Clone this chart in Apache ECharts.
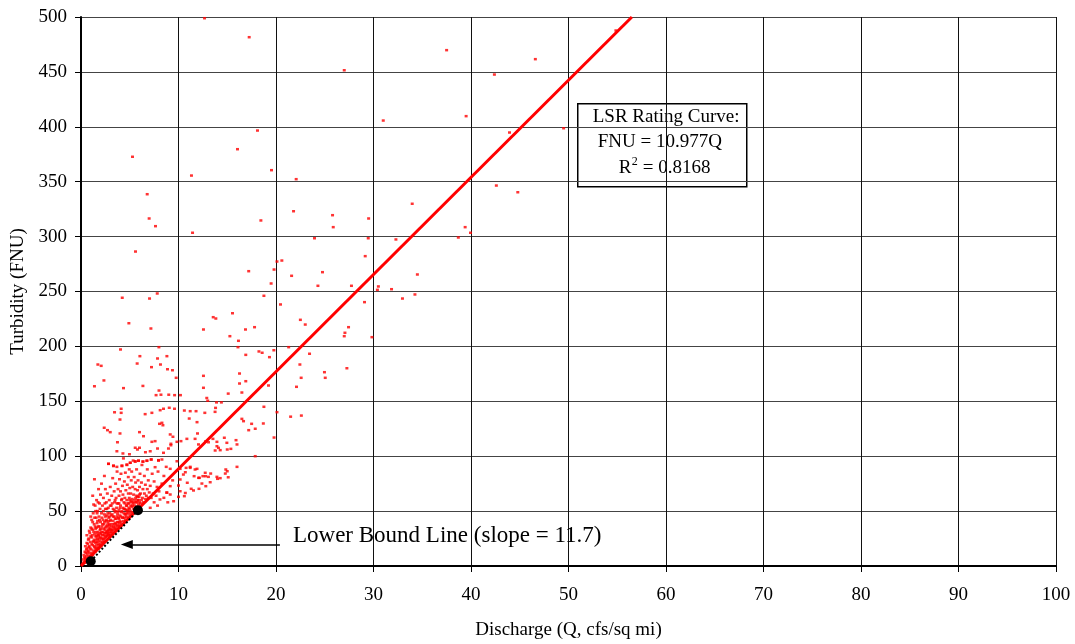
<!DOCTYPE html>
<html>
<head>
<meta charset="utf-8">
<script src="https://cdn.jsdelivr.net/npm/echarts@6/dist/echarts.min.js"></script>
<style>
  html, body { margin: 0; padding: 0; background: #fff; }
  #chart { width: 1075px; height: 644px; }
</style>
</head>
<body>
<div id="chart"></div>
<script>
// Axis ticks
const xTicks = [0, 10, 20, 30, 40, 50, 60, 70, 80, 90, 100];
const yTicks = [0, 50, 100, 150, 200, 250, 300, 350, 400, 450, 500];

// Observations [Q (cfs/sq mi), FNU]: high-turbidity / high-flow samples
const highFlow = [
  [12.67,498.9],[17.25,481.6],[27.0,451.5],[18.1,396.6],[16.05,379.6],[5.28,372.7],[19.54,360.5],
  [11.33,355.6],[22.07,352.3],[6.79,338.6],[54.86,487.7],[37.5,469.8],[46.6,461.6],[42.4,447.6],
  [31.0,405.7],[39.5,409.7],[43.95,394.8],[49.5,398.7],[42.6,346.5],[44.8,340.4],[33.97,329.9],
  [6.99,316.5],[7.64,309.5],[11.44,303.5],[18.45,314.7],[21.8,323.1],[23.95,298.5],[5.59,286.4],
  [25.8,319.5],[29.5,316.5],[25.87,308.6],[29.46,298.5],[32.3,297.4],[39.4,308.6],[39.95,303.5],
  [38.7,299.2]
];

// Observations in the 170-300 FNU band
const midFlow = [
  [20.1,277.3],[20.6,278.2],[19.8,270.0],[17.2,268.5],[21.6,264.3],[19.5,257.3],[24.3,255.2],
  [4.23,244.3],[7.03,243.6],[7.82,248.2],[18.76,246.1],[20.46,238.2],[4.91,221.1],[7.17,216.3],
  [13.56,226.6],[13.83,225.4],[15.54,230.2],[12.56,215.4],[16.87,215.4],[17.8,217.5],[22.5,224.2],
  [23.0,219.9],[15.27,209.3],[16.15,205.1],[4.05,197.2],[7.99,199.3],[16.1,199.3],[21.3,199.3],
  [6.04,191.1],[7.85,189],[8.81,191.1],[16.9,192.3],[18.25,195.4],[18.58,194.2],[19.33,190.2],
  [19.78,196.5],[23.44,193.3],[1.73,183.5],[2.07,182.3],[5.76,184.4],[7.23,181.1],[8.15,183.5],
  [8.87,179.2],[9.38,178.3],[9.76,171.4],[12.56,173.2],[16.26,175.3],[22.45,183.5],[22.58,171.4],
  [29.15,282.2],[24.77,267.6],[34.5,265.5],[27.74,255.2],[30.5,254.6],[30.4,251.5],[31.85,252.1],
  [34.25,247.3],[32.97,243.6],[29.08,240.3],[27.44,217.5],[27.07,212.4],[27.0,209.3],[29.84,208.4],
  [27.27,180.1],[24.97,176.5],[25.05,171.4]
];

// Observations in the 50-170 FNU band
const lowFlow = [
  [1.38,163.7],[2.35,169],[4.36,162],[6.35,164],[8.0,159.8],[8.2,156],[7.7,155.6],[9.0,156],
  [9.6,155.6],[10.2,155.6],[12.56,162.3],[12.9,153],[13.0,150.5],[13.9,149],[13.8,144],[13.75,140.4],
  [14.4,149],[15.1,157],[16.26,166.2],[16.9,168.3],[19.23,164.4],[22.1,163.2],[16.5,158],[18.76,145],
  [20.1,140.1],[3.44,140],[4.12,143.2],[4.12,139.5],[4.0,133.4],[6.58,138.3],[7.27,139.5],[8.12,141.9],
  [8.46,143.2],[9.05,144.1],[9.59,143.2],[10.6,141.6],[11.2,141],[11.8,141],[11.1,134.3],[11.9,131],
  [12.7,139.5],[2.38,125.9],[2.72,123.7],[3.0,121.9],[4.0,120.7],[3.74,112.7],[6.0,121.9],[6.41,118.2],
  [7.27,113.1],[7.6,113.7],[8.3,130.4],[8.4,128.2],[8.05,129.5],[9.15,119.8],[9.43,117.7],[9.22,111.3],
  [9.84,113.1],[10.25,113.7],[10.86,115.8],[11.7,115.8],[11.95,120.7],[12.05,110.7],[12.77,113.4],
  [13.08,112.7],[13.53,115.8],[13.94,109.1],[14.28,105.5],[14.96,112.2],[3.68,104.5],[4.3,102.5],
  [4.97,101.8],[5.56,107.7],[5.79,106.1],[6.0,107.7],[6.61,103.6],[7.1,104.5],[7.85,107],[8.46,103.1],
  [8.97,107],[9.22,110],[2.82,93.1],[3.33,91.5],[3.68,90.3],[4.2,91.5],[4.71,92.4],[5.05,94],
  [5.56,95.4],[5.9,95.8],[6.35,95.2],[6.76,95.8],[7.2,97],[7.95,96.4],[8.3,97],[8.74,90.3],
  [9.15,88.5],[9.84,95.4],[10.17,88.5],[10.5,83.3],[10.78,89.4],[11.2,90.3],[11.7,87.9],[12.15,80.3],
  [12.77,81.8],[13.3,84.2],[14.0,79.4],[14.85,87.9],[15.1,80.8],
  [10.0,63],[10.6,63.6],[10.17,68.1],[10.7,66.5],[11.3,70.3],[11.54,68.8],[12.1,70.3],[12.4,75.1],
  [12.8,72.7],[13.25,76.3],[13.94,81.2],[14.28,80],[14.8,84.2],[15.0,86.3],[16.0,90.3],[17.87,100],
  [19.8,117],[18.7,129.8],[17.5,129.5],[17.87,125],[17.2,123.7],[16.5,134],[16.67,131.9],[14.1,107.6],
  [15.0,106.1],[13.76,105.2],[14.7,116.8],[13.94,113.1],[15.9,114.6],[16.0,110.7],[15.37,106.7],
  [11.9,88.5],[11.2,89.4],[10.7,85.4],[11.6,81.8],[12.05,80.3],[12.5,81.8],[12.74,84.9],[13.07,81.2],
  [10.17,78.8],[10.0,73.3],[10.9,75.8],[9.15,72.7],[8.8,66.7],[9.15,65.1],[8.5,62.1],[8.1,60.6],
  [7.1,53],[7.85,55],[8.9,58],[9.5,59],[21.5,136],[22.6,137]
];

// Dense cluster of low-flow samples near the origin
const baseFlow = [
  [0.2,2],[0.3,4],[0.35,8],[0.4,3],[0.5,6],[0.5,12],[0.55,9],[0.6,5],[0.6,16],[0.65,11],[0.7,7],
  [0.7,20],[0.75,14],[0.8,9],[0.8,25],[0.85,18],[0.9,12],[0.9,30],[0.95,22],[1.0,10],[1.0,35],
  [0.6,28],[0.45,18],
  [1.05,15],[1.1,26],[1.1,42],[1.15,12],[1.2,19],[1.2,33],[1.2,64],[1.25,48],[1.3,14],[1.3,23],
  [1.35,38],[1.38,79],[1.4,17],[1.4,29],[1.45,55],[1.5,16],[1.5,21],[1.5,34],[1.55,44],[1.6,19],
  [1.6,27],[1.6,60],[1.65,39],[1.7,17],[1.7,24],[1.7,50],[1.75,31],[1.8,20],[1.8,36],[1.8,70],
  [1.85,27],[1.85,45],[1.9,19],[1.9,57],[1.95,23],[1.95,33],[2.0,40],[2.0,65],
  [2.05,21],[2.05,29],[2.1,48],[2.1,75],[2.15,25],[2.15,36],[2.2,22],[2.2,55],[2.25,31],[2.25,42],
  [2.3,24],[2.3,62],[2.35,28],[2.35,38],[2.4,47],[2.4,82],[2.45,25],[2.45,33],[2.5,27],[2.5,52],
  [2.5,70],[2.55,30],[2.55,41],[2.6,36],[2.6,58],[2.65,28],[2.65,46],[2.7,32],[2.7,66],[2.75,39],
  [2.75,30],[2.8,53],[2.8,29],[2.85,44],[2.85,35],[2.9,60],[2.9,31],[2.95,38],[2.95,48],[3.0,34],
  [3.0,72],[2.82,93],
  [3.05,30],[3.05,42],[3.1,55],[3.1,36],[3.15,33],[3.15,64],[3.2,47],[3.2,38],[3.25,31],[3.25,80],
  [3.3,41],[3.3,52],[3.33,91],[3.35,35],[3.4,45],[3.4,68],[3.45,33],[3.45,58],[3.5,39],[3.5,49],
  [3.55,36],[3.55,75],[3.6,43],[3.6,62],[3.65,34],[3.65,53],[3.7,40],[3.7,86],[3.75,47],[3.75,37],
  [3.8,57],[3.8,70],[3.85,36],[3.85,44],[3.9,51],[3.9,64],[3.95,39],[3.95,79],[4.0,46],[4.0,37],
  [4.05,55],[4.05,68],[4.1,40],[4.1,84],[4.15,49],[4.15,60],[4.2,38],[4.2,91],[4.25,44],[4.25,73],
  [4.3,53],[4.3,65],[4.35,41],[4.35,98],[4.4,48],[4.4,58],[4.45,77],[4.45,44],[4.5,52],[4.5,62],
  [4.55,42],[4.55,85],[4.6,47],[4.6,69],[4.65,55],[4.65,45],[4.7,92],[4.7,60],[4.75,50],[4.75,74],
  [4.8,44],[4.8,57],[4.85,66],[4.85,81],[4.9,48],[4.9,53],[4.95,62],[4.95,88],[5.0,46],[5.0,71],
  [5.05,50],[5.05,94],[5.1,58],[5.1,66],[5.15,48],[5.15,78],[5.2,54],[5.2,86],[5.25,61],[5.3,49],
  [5.3,72],[5.35,57],[5.35,96],[5.4,52],[5.4,65],[5.45,81],[5.5,55],[5.5,60],[5.55,70],[5.56,95],
  [5.6,51],[5.6,76],[5.65,58],[5.7,64],[5.7,88],[5.75,54],[5.8,69],[5.8,60],[5.85,78],[5.9,56],
  [5.9,96],[5.95,63],[6.0,72],[6.0,58],
  [6.05,84],[6.1,57],[6.1,66],[6.2,60],[6.2,76],[6.25,92],[6.3,62],[6.35,95],[6.35,70],[6.4,58],
  [6.5,66],[6.5,82],[6.6,61],[6.6,74],[6.7,64],[6.76,96],[6.8,70],[6.8,88],[6.9,62],[6.9,78],[7.0,67],
  [7.1,73],[7.2,97],[7.2,62],[7.3,84],[7.4,66],[7.5,58],[7.5,77],[7.6,90],[7.7,64],[7.8,72],
  [7.9,86],[7.95,96],[8.0,68],[8.3,75],[8.5,82],[8.8,67],[9.4,78]
];

// Further samples packed tightly above the lower bound line
const baseFlowDense = [
  [0.25,6],[0.3,10],[0.4,13],[0.45,7],[0.55,15],[0.6,21],[0.65,4],[0.7,13],[0.75,24],[0.8,17],
  [0.85,32],[0.9,7],[0.95,16],[1.0,27],[1.0,45],
  [1.05,8],[1.1,20],[1.1,34],[1.15,28],[1.2,10],[1.2,40],[1.25,22],[1.3,31],[1.3,56],[1.35,18],
  [1.4,24],[1.4,44],[1.45,13],[1.45,36],[1.5,27],[1.5,50],[1.55,22],[1.55,31],[1.6,15],[1.6,35],
  [1.65,25],[1.65,48],[1.7,29],[1.7,41],[1.75,22],[1.75,58],[1.8,16],[1.8,28],[1.85,36],[1.9,25],
  [1.9,42],[1.95,30],[1.95,52],[2.0,18],[2.0,26],[2.0,34],
  [2.1,19],[2.1,31],[2.15,44],[2.2,28],[2.2,38],[2.25,25],[2.3,34],[2.3,50],[2.35,22],[2.4,30],
  [2.4,40],[2.45,57],[2.5,35],[2.5,45],[2.55,26],[2.6,31],[2.6,42],[2.65,52],[2.7,27],[2.7,37],
  [2.75,48],[2.8,33],[2.8,41],[2.85,28],[2.9,37],[2.9,45],[2.95,33],[3.0,28],[3.0,41],[3.0,55],
  [3.1,31],[3.1,46],[3.2,33],[3.2,57],[3.3,36],[3.3,45],[3.4,38],[3.4,51],[3.5,34],[3.5,43],
  [3.5,60],[3.6,38],[3.6,50],[3.7,45],[3.7,57],[3.8,40],[3.8,49],[3.9,43],[3.9,57],[4.0,41],[4.0,53],
  [4.1,45],[4.2,50],[4.2,61],[4.3,44],[4.4,52],[4.5,47],[4.5,57],[4.6,51],[4.7,48],[4.7,55],
  [4.8,51],[4.9,57],[5.0,52],[5.0,60],[5.1,55],[5.2,59],[5.3,55],[5.4,58],[5.5,52],[5.6,62],
  [5.7,58],[5.8,63],[5.9,60],[6.0,65]
];

// Fitted LSR rating curve, drawn between its end points on the plot
const lsrCurve = [[0, 0], [56.5, 500]];
// Lower bound line through its two anchor samples
const lowerBound = [[1.0, 4.4], [5.84, 50.7]];
// Arrow pointing at the lower bound line
const arrowFrom = [20.4, 19.6];
const arrowTo = [4.7, 19.6];

const serif = 'Liberation Serif, Times New Roman, serif';
const scatterStyle = {
  type: 'scatter',
  symbol: 'rect',
  symbolSize: [3, 2.5],
  itemStyle: { color: '#ff0000' },
  silent: true,
  z: 3
};

const chart = echarts.init(document.getElementById('chart'), null, { renderer: 'canvas' });

chart.setOption({
  animation: false,
  backgroundColor: '#ffffff',
  grid: { left: 81, right: 19, top: 17, bottom: 78, containLabel: false, outerBoundsMode: 'none' },
  xAxis: {
    type: 'value',
    min: xTicks[0], max: xTicks[xTicks.length - 1], interval: xTicks[1] - xTicks[0],
    name: 'Discharge (Q, cfs/sq mi)',
    nameLocation: 'middle',
    nameGap: 55,
    nameTextStyle: { fontFamily: serif, fontSize: 19, color: '#000' },
    axisLine: { show: true, onZero: false, lineStyle: { color: '#000', width: 2 } },
    axisTick: { show: true, inside: false, length: 6, lineStyle: { color: '#000', width: 1 } },
    axisLabel: { fontFamily: serif, fontSize: 19, color: '#000', margin: 20, showMinLabel: true, showMaxLabel: true },
    splitLine: { show: true, lineStyle: { color: '#111', width: 1 } }
  },
  yAxis: {
    type: 'value',
    min: yTicks[0], max: yTicks[yTicks.length - 1], interval: yTicks[1] - yTicks[0],
    name: 'Turbidity (FNU)',
    nameLocation: 'middle',
    nameGap: 53,
    nameTextStyle: { fontFamily: serif, fontSize: 19, color: '#000' },
    axisLine: { show: true, onZero: false, lineStyle: { color: '#000', width: 2 } },
    axisTick: { show: true, inside: false, length: 6, lineStyle: { color: '#000', width: 1 } },
    axisLabel: { fontFamily: serif, fontSize: 19, color: '#000', margin: 14, showMinLabel: true, showMaxLabel: true },
    splitLine: { show: true, lineStyle: { color: '#444', width: 1 } }
  },
  series: [
    Object.assign({ name: 'highFlow', data: highFlow }, scatterStyle),
    Object.assign({ name: 'midFlow', data: midFlow }, scatterStyle),
    Object.assign({ name: 'lowFlow', data: lowFlow }, scatterStyle),
    Object.assign({ name: 'baseFlow', data: baseFlow }, scatterStyle),
    Object.assign({ name: 'baseFlowDense', data: baseFlowDense }, scatterStyle),
    {
      name: 'LSR Rating Curve',
      type: 'line',
      data: lsrCurve,
      showSymbol: false,
      symbol: 'none',
      lineStyle: { color: '#ff0000', width: 3 },
      silent: true,
      z: 4
    },
    {
      name: 'Lower Bound Line',
      type: 'line',
      data: lowerBound,
      symbol: 'circle',
      symbolSize: 10,
      showSymbol: true,
      itemStyle: { color: '#000' },
      lineStyle: { color: '#000', width: 2, type: [2, 2] },
      silent: true,
      z: 5,
      markLine: {
        silent: true,
        animation: false,
        symbol: ['none', 'triangle'],
        symbolSize: [9, 12],
        label: { show: false },
        lineStyle: { color: '#000', width: 1.5, type: 'solid' },
        data: [[{ coord: arrowFrom }, { coord: arrowTo }]]
      }
    }
  ],
  graphic: [
    {
      type: 'text',
      left: 293, top: 524,
      style: { text: 'Lower Bound Line (slope = 11.7)', font: '23px ' + serif, fill: '#000' },
      z: 10
    },
    {
      type: 'group',
      left: 577, top: 103,
      z: 10,
      children: [
        { type: 'rect', shape: { x: 0, y: 0, width: 169, height: 83 },
          style: { fill: '#fff', stroke: '#000', lineWidth: 1.5 } },
        { type: 'text', x: 15, y: 4,
          style: { text: 'LSR Rating Curve:', font: '19px ' + serif, fill: '#000' } },
        { type: 'text', x: 20, y: 29,
          style: { text: 'FNU = 10.977Q', font: '19px ' + serif, fill: '#000' } },
        { type: 'text', x: 41, y: 55,
          style: { text: 'R', font: '19px ' + serif, fill: '#000' } },
        { type: 'text', x: 54, y: 52,
          style: { text: '2', font: '12px ' + serif, fill: '#000' } },
        { type: 'text', x: 65, y: 55,
          style: { text: '= 0.8168', font: '19px ' + serif, fill: '#000' } }
      ]
    }
  ]
});
</script>
</body>
</html>
